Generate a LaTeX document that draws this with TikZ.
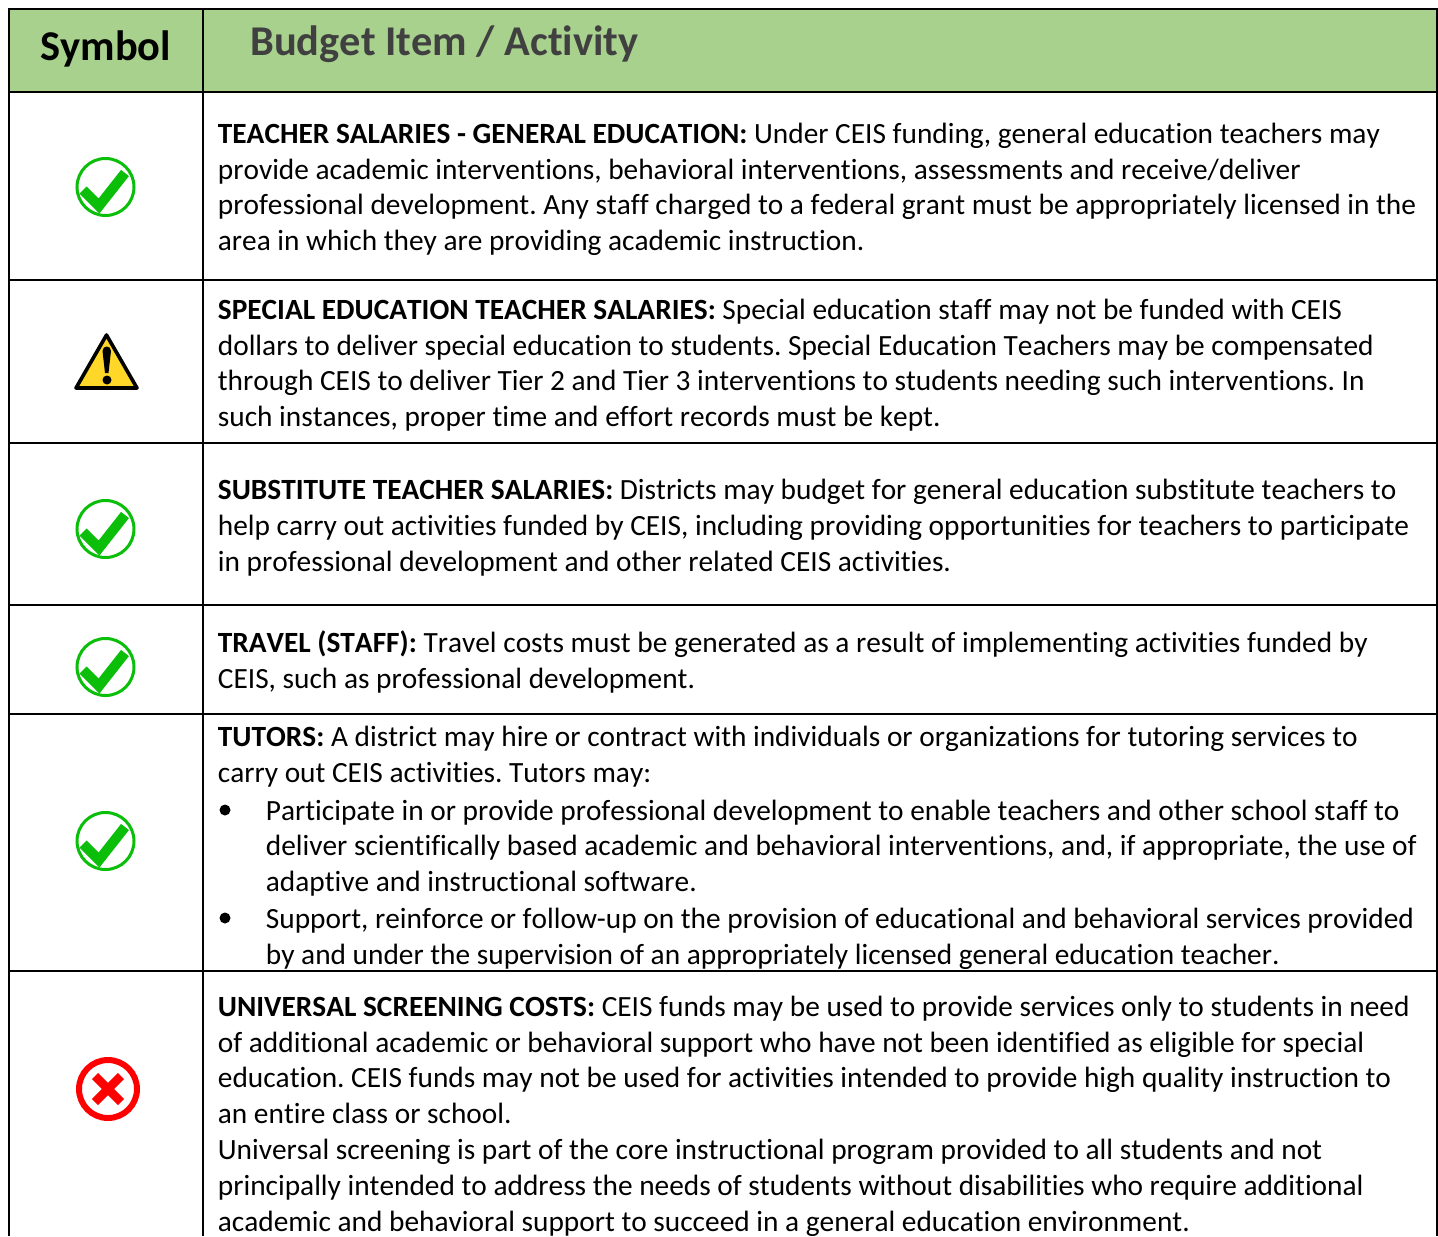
\documentclass[tikz,border=0pt]{standalone}
\usepackage{fontspec}
\setmainfont{Carlito}[Ligatures=CommonOff,Kerning=Off]
\definecolor{hdr}{RGB}{169,209,142}
\definecolor{hdrtxt}{RGB}{64,64,64}
\definecolor{okgreen}{RGB}{10,190,10}
\definecolor{warn}{RGB}{255,215,40}
\newcommand{\tl}[3]{\node[txt] (l#1) at (217.5,#2+0.7) {#3};}
\newcommand{\bl}[3]{\node[txt] (l#1) at (265.5,#2+0.7) {#3};}
\newcommand{\okicon}[3]{\begin{scope}[shift={(#1,#2)}]
 \draw[okgreen,line width=1.5pt,fill=white] (0,0) circle (28.5);
 \draw[okgreen,line width=5pt] (-22.5,3) -- (-6.5,19) -- (19.5,-14);
 \node[inner sep=0pt] (#3) at (0,0) {};
\end{scope}}
\tikzset{txt/.style={anchor=base west,inner sep=0pt,font=\fontsize{14.67}{18}\selectfont\frenchspacing},
 grid/.style={line width=1pt,black},
 bul/.style={fill=black,circle,inner sep=0pt,minimum size=5.5pt}}
\begin{document}
\begin{tikzpicture}[x=0.5pt,y=-0.5pt]
\useasboundingbox (0,0) rectangle (1438,1236);
\fill[white] (0,0) rectangle (1438,1236);
\fill[hdr] (9,9) rectangle (1437,92);
\draw[grid] (9,1236) -- (9,9) -- (1437,9) -- (1437,1236);
\draw[grid] (203,9) -- (203,1236);
\foreach \y in {92,280,443,605,714,971} \draw[grid] (9,\y) -- (1437,\y);
\node[txt,font=\fontsize{21.2}{26}\selectfont\bfseries] (sym) at (40,61) {Symbol};
\node[txt,font=\fontsize{21.2}{26}\selectfont\bfseries,text=hdrtxt] (bud) at (250,55.5) {Budget Item / Activity};
\okicon{105.5}{187}{i1}
\okicon{105.5}{529}{i3}
\okicon{105.5}{667}{i4}
\okicon{105.5}{841}{i5}
% warning
\draw[black,line width=1.8pt,fill=warn,line join=round] (106.5,335) -- (137,388) -- (76,388) -- cycle;
\node[inner sep=0pt] (i2) at (106.5,365) {};
\fill[black] (102.5,351) .. controls (102.5,345) and (111,345) .. (111,351) -- (108.5,373) -- (105,373) -- cycle;
\fill[black] (107,380) circle (4.5);
% cross
\draw[red,line width=3pt,fill=white] (108,1089) circle (29);
\draw[red,line width=4.3pt] (95,1076) -- (121,1102) (121,1076) -- (95,1102);
\node[inner sep=0pt] (i6) at (108,1089) {};
% text
\tl{1}{142.5}{\textbf{TEACHER SALARIES - GENERAL EDUCATION:} Under CEIS funding, general education teachers may}
\tl{2}{178.5}{provide academic interventions, behavioral interventions, assessments and receive/deliver}
\tl{3}{213.5}{professional development. Any staff charged to a federal grant must be appropriately licensed in the}
\tl{4}{249.5}{area in which they are providing academic instruction.}
\tl{5}{318.5}{\textbf{SPECIAL EDUCATION TEACHER SALARIES:} Special education staff may not be funded with CEIS}
\tl{6}{354.5}{dollars to deliver special education to students. Special Education Teachers may be compensated}
\tl{7}{389.5}{through CEIS to deliver Tier 2 and Tier 3 interventions to students needing such interventions. In}
\tl{8}{425.5}{such instances, proper time and effort records must be kept.}
\tl{9}{498.5}{\textbf{SUBSTITUTE TEACHER SALARIES:} Districts may budget for general education substitute teachers to}
\tl{10}{534.5}{help carry out activities funded by CEIS, including providing opportunities for teachers to participate}
\tl{11}{570.5}{in professional development and other related CEIS activities.}
\tl{12}{651.5}{\textbf{TRAVEL (STAFF):} Travel costs must be generated as a result of implementing activities funded by}
\tl{13}{687.5}{CEIS, such as professional development.}
\tl{14}{745.5}{\textbf{TUTORS:} A district may hire or contract with individuals or organizations for tutoring services to}
\tl{15}{781.5}{carry out CEIS activities. Tutors may:}
\node[bul] (b1) at (225,810) {};
\bl{16}{819.5}{Participate in or provide professional development to enable teachers and other school staff to}
\bl{17}{854.5}{deliver scientifically based academic and behavioral interventions, and, if appropriate, the use of}
\bl{18}{890.5}{adaptive and instructional software.}
\node[bul] (b2) at (225,918) {};
\bl{19}{927.5}{Support, reinforce or follow-up on the provision of educational and behavioral services provided}
\bl{20}{963.5}{by and under the supervision of an appropriately licensed general education teacher.}
\tl{21}{1015.5}{\textbf{UNIVERSAL SCREENING COSTS:} CEIS funds may be used to provide services only to students in need}
\tl{22}{1051.5}{of additional academic or behavioral support who have not been identified as eligible for special}
\tl{23}{1086.5}{education. CEIS funds may not be used for activities intended to provide high quality instruction to}
\tl{24}{1122.5}{an entire class or school.}
\tl{25}{1158.5}{Universal screening is part of the core instructional program provided to all students and not}
\tl{26}{1194.5}{principally intended to address the needs of students without disabilities who require additional}
\tl{27}{1230.5}{academic and behavioral support to succeed in a general education environment.}
\end{tikzpicture}
\end{document}
